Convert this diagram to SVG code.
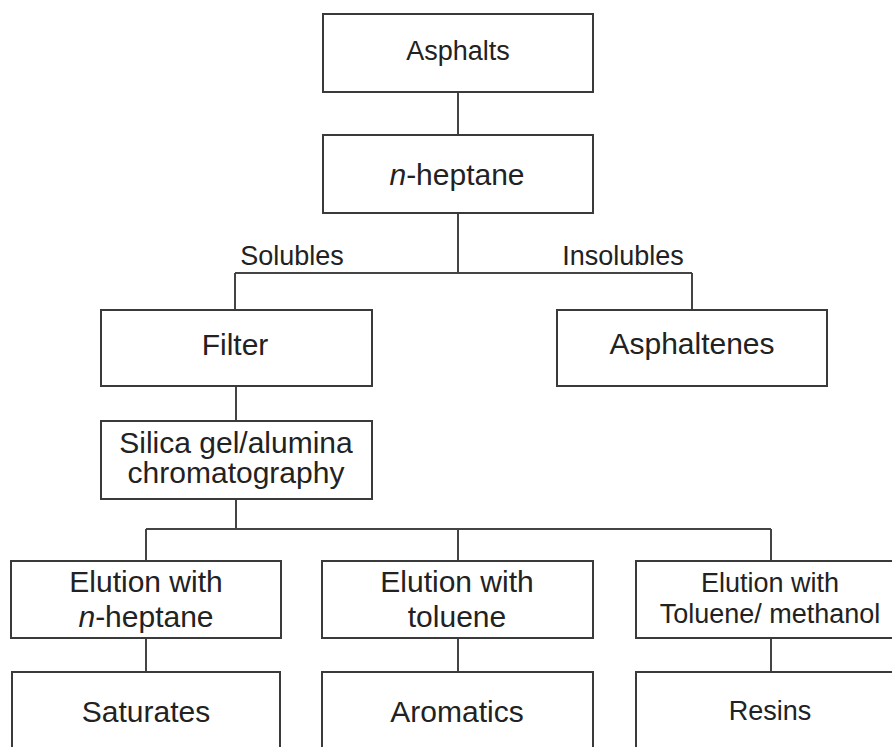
<svg xmlns="http://www.w3.org/2000/svg" width="892" height="747" viewBox="0 0 892 747">
<style>
  .box { fill: #ffffff; stroke: #3a3a3a; stroke-width: 2; }
  .conn { fill: none; stroke: #444444; stroke-width: 2; }
  text { font-family: "Liberation Sans", Arial, sans-serif; fill: #222222; text-anchor: middle; }
  .f30 { font-size: 30px; }
  .f27 { font-size: 27px; }
  .it { font-style: italic; }
</style>
<rect width="892" height="747" fill="#ffffff"/>
<g id="connectors">
  <path class="conn" d="M458 92 V135"/>
  <path class="conn" d="M458 213 V273 M235 273 H692 M235 273 V310 M692 273 V310"/>
  <path class="conn" d="M236 386 V421"/>
  <path class="conn" d="M236 499 V529 M146 529 H771 M146 529 V561 M458 529 V561 M771 529 V561"/>
  <path class="conn" d="M146 638 V672 M458 638 V672 M771 638 V672"/>
</g>
<g id="label-solubles"><text class="f27" x="292" y="265">Solubles</text></g>
<g id="label-insolubles"><text class="f27" x="623" y="265">Insolubles</text></g>
<g id="asphalts">
  <rect class="box" x="323" y="14" width="270" height="78"/>
  <text class="f27" x="458" y="60">Asphalts</text>
</g>
<g id="n-heptane">
  <rect class="box" x="323" y="135" width="270" height="78"/>
  <text class="f30" x="457" y="185"><tspan class="it">n</tspan>-heptane</text>
</g>
<g id="filter">
  <rect class="box" x="101" y="310" width="271" height="76"/>
  <text class="f30" x="235" y="355">Filter</text>
</g>
<g id="asphaltenes">
  <rect class="box" x="557" y="310" width="270" height="76"/>
  <text class="f30" x="692" y="354">Asphaltenes</text>
</g>
<g id="silica">
  <rect class="box" x="101" y="421" width="271" height="78"/>
  <text class="f30" x="236" y="453">Silica gel/alumina</text>
  <text class="f30" x="236" y="483">chromatography</text>
</g>
<g id="elution-heptane">
  <rect class="box" x="11" y="561" width="270" height="77"/>
  <text class="f30" x="146" y="592">Elution with</text>
  <text class="f30" x="146" y="627"><tspan class="it">n</tspan>-heptane</text>
</g>
<g id="elution-toluene">
  <rect class="box" x="322" y="561" width="271" height="77"/>
  <text class="f30" x="457" y="592">Elution with</text>
  <text class="f30" x="457" y="627">toluene</text>
</g>
<g id="elution-toluene-methanol">
  <rect class="box" x="636" y="561" width="268" height="77"/>
  <text class="f27" x="770" y="592">Elution with</text>
  <text class="f27" x="770" y="623">Toluene/ methanol</text>
</g>
<g id="saturates">
  <rect class="box" x="12" y="672" width="268" height="100"/>
  <text class="f30" x="146" y="722">Saturates</text>
</g>
<g id="aromatics">
  <rect class="box" x="322" y="672" width="271" height="100"/>
  <text class="f30" x="457" y="722">Aromatics</text>
</g>
<g id="resins">
  <rect class="box" x="636" y="672" width="268" height="100"/>
  <text class="f27" x="770" y="720">Resins</text>
</g>
</svg>
